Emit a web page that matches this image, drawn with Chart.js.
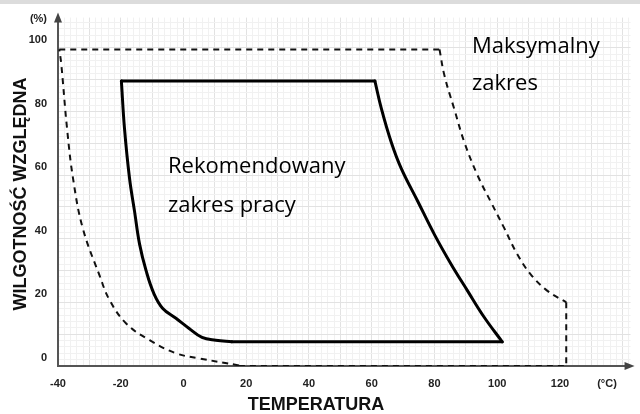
<!DOCTYPE html>
<html>
<head>
<meta charset="utf-8">
<script src="https://cdn.jsdelivr.net/npm/chart.js@4/dist/chart.umd.min.js"></script>
<style>
  html, body { margin: 0; padding: 0; background: #fff; }
  #wrap { width: 640px; height: 414px; }
</style>
</head>
<body>
<div id="wrap"><canvas id="myChart" width="640" height="414"></canvas></div>
<script>
// maximum range (dashed): [temp C] / [RH %]
const maxLeftT   = [17.7, 5.0, -2.4, -10.8, -18.2, -23.5, -26.7, -32.1, -35.2, -37.1, -39.0, -39.6];
const maxLeftRH  = [-2.3, -0.1, 1.5, 5.6, 10.8, 18.1, 25.8, 40.8, 56.4, 72.0, 92.8, 97.0];
const maxTopT    = [-39.6, 81.6];
const maxTopRH   = [97.0, 97.0];
const maxRightT  = [81.6, 83.2, 86.3, 89.5, 93.7, 97.9, 102.2, 106.4, 110.6, 115.9, 122.0];
const maxRightRH = [97.0, 88.7, 78.3, 67.9, 57.5, 49.2, 40.9, 32.6, 26.4, 21.2, 17.5];
const maxEdgeT   = [122.0, 122.0, 17.7];
const maxEdgeRH  = [17.5, -2.5, -2.5];

// recommended working range (solid)
const recTopT    = [-19.8, 61.0];
const recTopRH   = [87.1, 87.1];
const recRightT  = [61.0, 63.1, 66.2, 69.4, 74.7, 80.0, 85.3, 90.5, 95.8, 101.6];
const recRightRH = [87.1, 78.3, 67.9, 59.6, 49.2, 38.8, 29.5, 21.2, 12.9, 5.1];
const recBotT    = [101.6, 15.4];
const recBotRH   = [5.1, 5.1];
const recLeftT   = [15.4, 10.3, 5.9, 1.8, -2.4, -6.6, -9.4, -11.9, -14.0, -15.6, -17.2, -18.8, -19.8];
const recLeftRH  = [5.1, 5.6, 6.5, 9.3, 12.5, 15.6, 20.2, 27.4, 35.8, 46.1, 56.5, 72.1, 87.1];

// axis labels
const xLabels = {'-40': '-40', '-20': '-20', '0': '0', '20': '20', '40': '40', '60': '60', '80': '80', '100': '100', '120': '120', '135': '(°C)'};
const yLabels = {'0': '0', '20': '20', '40': '40', '60': '60', '80': '80', '100': '100', '106.5': '(%)'};

const toPts = (xs, ys) => xs.map((x, i) => ({x: x, y: ys[i]}));

// grid every 2 units starting at the axis origin, labels separate
const xGrid = [];
for (let v = -40; v <= 142; v += 2) xGrid.push(v);
const yGrid = [];
for (let v = -2.5; v <= 107; v += 2) yGrid.push(v);

const xTickVals = [...new Set(xGrid.concat(Object.keys(xLabels).map(Number)))].sort((a, b) => a - b);
const yTickVals = [...new Set(yGrid.concat(Object.keys(yLabels).map(Number)))].sort((a, b) => a - b);

const gridColor = (isGrid, isMajor) => !isGrid ? 'rgba(0,0,0,0)' : (isMajor ? '#e2e2e2' : '#f1f1f1');

function dashed(xs, ys, tension) {
  return {
    data: toPts(xs, ys), showLine: true, borderColor: '#111', borderWidth: 2,
    borderDash: [6, 5], pointRadius: 0, tension: tension
  };
}
function solid(xs, ys, tension) {
  return {
    data: toPts(xs, ys), showLine: true, borderColor: '#000', borderWidth: 3,
    borderCapStyle: 'round', pointRadius: 0, tension: tension
  };
}

// texts, arrows and the grey strip on top
const decor = {
  id: 'decor',
  beforeDraw(chart) {
    const c = chart.ctx;
    c.save();
    c.fillStyle = '#fff';
    c.fillRect(0, 0, chart.width, chart.height);
    c.fillStyle = '#dcdcdc';
    c.fillRect(0, 0, chart.width, 4);
    c.restore();
  },
  afterDraw(chart) {
    const c = chart.ctx;
    const a = chart.chartArea;
    c.save();
    // arrows
    c.fillStyle = '#444';
    c.beginPath();
    c.moveTo(a.left, a.top - 5);
    c.lineTo(a.left - 4, a.top + 5);
    c.lineTo(a.left + 4, a.top + 5);
    c.fill();
    c.beginPath();
    c.moveTo(a.right + 4, a.bottom);
    c.lineTo(a.right - 6, a.bottom - 4);
    c.lineTo(a.right - 6, a.bottom + 4);
    c.fill();

    c.fillStyle = '#111';
    c.font = 'bold 18px "Liberation Sans", Arial, sans-serif';
    c.textAlign = 'center';
    c.textBaseline = 'alphabetic';
    c.fillText('TEMPERATURA', 316, 410);
    c.translate(21, 194);
    c.rotate(-Math.PI / 2);
    c.textBaseline = 'middle';
    c.fillText('WILGOTNOŚĆ WZGLĘDNA', 0, 0);
    c.restore();

    c.save();
    c.fillStyle = '#000';
    c.font = '22px "Open Sans", "Noto Sans", sans-serif';
    c.textAlign = 'left';
    c.textBaseline = 'alphabetic';
    c.fillText('Rekomendowany', 168, 173);
    c.fillText('zakres pracy', 168, 212);
    c.fillText('Maksymalny', 472, 53);
    c.fillText('zakres', 472, 90);
    c.restore();
  }
};

const config = {
  type: 'scatter',
  data: {
    datasets: [
      dashed(maxLeftT, maxLeftRH, 0.4),
      dashed(maxTopT, maxTopRH, 0),
      dashed(maxRightT, maxRightRH, 0.4),
      dashed(maxEdgeT, maxEdgeRH, 0),
      solid(recTopT, recTopRH, 0),
      solid(recRightT, recRightRH, 0.4),
      solid(recBotT, recBotRH, 0),
      solid(recLeftT, recLeftRH, 0.4)
    ]
  },
  options: {
    responsive: false,
    animation: false,
    events: [],
    layout: {padding: {top: 15, right: 5, left: 0, bottom: 0}},
    plugins: {
      legend: {display: false},
      tooltip: {enabled: false},
      title: {display: false}
    },
    scales: {
      x: {
        type: 'linear',
        min: -40,
        max: 142.5,
        afterBuildTicks: s => { s.ticks = xTickVals.map(v => ({value: v})); },
        afterFit: s => { s.height = 48; },
        grid: {
          drawTicks: false,
          color: ctx => {
            const v = ctx.tick ? ctx.tick.value : 0;
            return gridColor(xGrid.includes(v), (v + 40) % 10 === 0);
          }
        },
        border: {display: true, color: '#555', width: 2},
        ticks: {
          autoSkip: false,
          maxRotation: 0,
          padding: 11,
          color: '#222',
          font: {family: '"Liberation Sans", Arial, sans-serif', size: 11, weight: 'bold'},
          callback: v => xLabels[String(v)] || ''
        }
      },
      y: {
        type: 'linear',
        min: -2.5,
        max: 107,
        afterBuildTicks: s => { s.ticks = yTickVals.map(v => ({value: v})); },
        afterFit: s => { s.width = 58; },
        grid: {
          drawTicks: false,
          color: ctx => {
            const v = ctx.tick ? ctx.tick.value : 0;
            return gridColor(yGrid.includes(v), Math.round((v + 2.5) * 10) % 100 === 0);
          }
        },
        border: {display: true, color: '#555', width: 2},
        ticks: {
          autoSkip: false,
          padding: 11,
          color: '#222',
          font: {family: '"Liberation Sans", Arial, sans-serif', size: 11, weight: 'bold'},
          callback: v => yLabels[String(v)] || ''
        }
      }
    }
  },
  plugins: [decor]
};

const myChart = new Chart(document.getElementById('myChart'), config);
</script>
</body>
</html>
